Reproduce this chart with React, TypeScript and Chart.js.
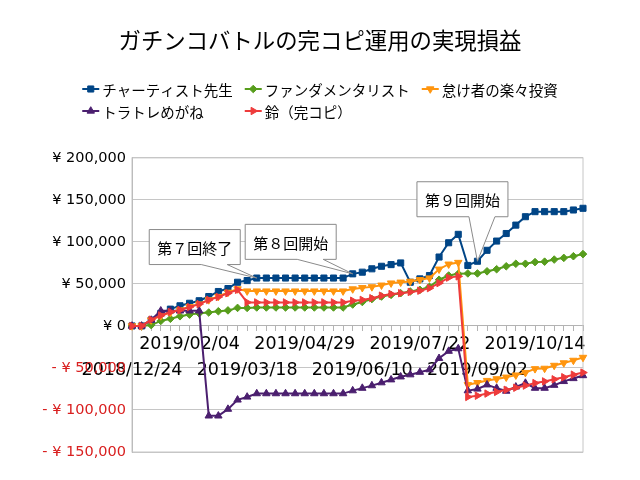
import { useEffect, useRef } from "react";
import { Chart, registerables } from "chart.js";

Chart.register(...registerables);

const jpFont = '"Noto Sans CJK JP", "DejaVu Sans", sans-serif';
const numFont = '"DejaVu Sans", sans-serif';

const chartTitle = "ガチンコバトルの完コピ運用の実現損益";

const weeks = [
  "2018/12/24", "2018/12/31", "2019/01/07", "2019/01/14", "2019/01/21", "2019/01/28",
  "2019/02/04", "2019/02/11", "2019/02/18", "2019/02/25", "2019/03/04", "2019/03/11",
  "2019/03/18", "2019/03/25", "2019/04/01", "2019/04/08", "2019/04/15", "2019/04/22",
  "2019/04/29", "2019/05/06", "2019/05/13", "2019/05/20", "2019/05/27", "2019/06/03",
  "2019/06/10", "2019/06/17", "2019/06/24", "2019/07/01", "2019/07/08", "2019/07/15",
  "2019/07/22", "2019/07/29", "2019/08/05", "2019/08/12", "2019/08/19", "2019/08/26",
  "2019/09/02", "2019/09/09", "2019/09/16", "2019/09/23", "2019/09/30", "2019/10/07",
  "2019/10/14", "2019/10/21", "2019/10/28", "2019/11/04", "2019/11/11", "2019/11/18",
];

const seriesNames = ["チャーティスト先生", "ファンダメンタリスト", "怠け者の楽々投資", "トラトレめがね", "鈴（完コピ）"];
const seriesColors = ["#004586", "#579d1c", "#ff950e", "#4b1f6f", "#ee3b3b"];

const chartist = [
  0, 0, 7000, 15000, 20000, 24000, 27000, 30000, 35000, 41000, 44500, 52000,
  54000, 57000, 57000, 57000, 57000, 57000, 57000, 57000, 57000, 57000, 57000, 62000,
  64000, 68000, 71000, 73000, 75000, 52000, 56000, 60000, 82000, 99000, 109000, 72000,
  77000, 90000, 101000, 110000, 120000, 130000, 136000, 136000, 136000, 136000, 138000, 140000,
];
const fundamentalist = [
  0, 0, 1000, 6000, 8500, 11500, 13500, 15000, 16000, 17500, 18500, 21500,
  21500, 22000, 22000, 22000, 22000, 22000, 22000, 22000, 22000, 22000, 22000, 25500,
  28500, 32000, 35000, 37000, 39000, 41000, 43000, 46500, 55000, 60000, 62000, 62500,
  62500, 65000, 67500, 71000, 74000, 74000, 76000, 76500, 79000, 81000, 83000, 85500,
];
const lazyInvest = [
  0, 0, 7000, 12000, 16000, 19000, 23000, 26000, 31000, 35000, 40000, 44000,
  41500, 41500, 41500, 41500, 41500, 41500, 41500, 41500, 41500, 41500, 41500, 44000,
  45500, 46500, 48500, 51000, 52000, 53000, 55000, 57000, 67500, 73500, 75500, -70000,
  -67500, -65000, -63000, -61000, -58500, -55500, -51000, -50500, -47000, -44000, -41000, -37500,
];
const toratore = [
  0, 0, 7000, 18000, 18000, 18000, 18000, 18000, -107000, -107000, -99000, -88000,
  -84500, -80500, -80500, -80500, -80500, -80500, -80500, -80500, -80500, -80500, -80500, -77000,
  -74000, -71000, -67500, -64000, -60500, -58000, -55000, -52000, -38500, -30000, -27000, -77000,
  -75000, -70000, -74000, -77500, -72500, -68000, -74000, -74000, -70500, -66000, -62500, -59000,
];
const suzu = [
  0, 0, 7500, 12500, 16500, 19000, 22500, 26000, 31000, 34500, 39000, 43000,
  28000, 28000, 28000, 28000, 28000, 28000, 28000, 28000, 28000, 28000, 28000, 30000,
  31000, 33000, 36000, 38000, 39000, 40500, 42000, 45000, 51000, 57500, 59000, -84500,
  -83000, -80500, -78500, -76000, -73500, -71000, -68000, -66000, -63500, -61000, -58000, -55500,
];

const seriesData = [chartist, fundamentalist, lazyInvest, toratore, suzu];
const markerStyles = ["rect", "rectRot", "triangle", "triangle", "triangle"];
const markerRotations = [0, 0, 180, 0, 90];
const markerRadius = [4.3, 3.8, 4.3, 4.3, 4.3];

// callouts point at the チャーティスト先生 line
const callouts = [
  { text: "第７回終了", index: 13, dx: -62, dy: -31 },
  { text: "第８回開始", index: 23, dx: -62, dy: -32 },
  { text: "第９回開始", index: 36, dx: -15, dy: -62 },
];

const negRed = "#d92020";

function drawMarker(ctx: CanvasRenderingContext2D, style: string, rot: number, r: number, x: number, y: number) {
  ctx.beginPath();
  if (style === "rect") {
    const s = r * Math.SQRT1_2;
    ctx.rect(x - s, y - s, 2 * s, 2 * s);
  } else if (style === "rectRot") {
    ctx.moveTo(x, y - r);
    ctx.lineTo(x + r, y);
    ctx.lineTo(x, y + r);
    ctx.lineTo(x - r, y);
    ctx.closePath();
  } else {
    let a = (rot * Math.PI) / 180;
    ctx.moveTo(x + Math.sin(a) * r, y - Math.cos(a) * r);
    a += (2 * Math.PI) / 3;
    ctx.lineTo(x + Math.sin(a) * r, y - Math.cos(a) * r);
    a += (2 * Math.PI) / 3;
    ctx.lineTo(x + Math.sin(a) * r, y - Math.cos(a) * r);
    ctx.closePath();
  }
  ctx.fill();
  ctx.stroke();
}

const plotBorder = {
  id: "plotBorder",
  beforeDatasetsDraw(chart: any) {
    const { ctx, chartArea } = chart;
    ctx.save();
    ctx.strokeStyle = "#c6c6c6";
    ctx.lineWidth = 1;
    ctx.strokeRect(chartArea.left, chartArea.top, chartArea.right - chartArea.left, chartArea.bottom - chartArea.top);
    ctx.restore();
  },
};

const calloutPlugin = {
  id: "callouts",
  afterDatasetsDraw(chart: any) {
    const ctx = chart.ctx as CanvasRenderingContext2D;
    const meta = chart.getDatasetMeta(0);
    const w = 91;
    const h = 35;
    ctx.save();
    ctx.font = `15px ${jpFont}`;
    ctx.textAlign = "center";
    ctx.textBaseline = "middle";
    callouts.forEach((c) => {
      const pt = meta.data[c.index];
      const cx = pt.x + c.dx;
      const cy = pt.y + c.dy;
      const left = cx - w / 2;
      const top = cy - h / 2;
      const bottom = top + h;
      ctx.beginPath();
      ctx.moveTo(left, top);
      ctx.lineTo(left + w, top);
      ctx.lineTo(left + w, bottom);
      ctx.lineTo(left + 78, bottom);
      ctx.lineTo(pt.x, pt.y);
      ctx.lineTo(left + 52, bottom);
      ctx.lineTo(left, bottom);
      ctx.closePath();
      ctx.fillStyle = "#ffffff";
      ctx.fill();
      ctx.strokeStyle = "#8a8a8a";
      ctx.lineWidth = 1;
      ctx.stroke();
      ctx.fillStyle = "#000000";
      ctx.fillText(c.text, cx, cy + 1);
    });
    ctx.restore();
  },
};

const gridLegend = {
  id: "gridLegend",
  afterDraw(chart: any) {
    const ctx = chart.ctx as CanvasRenderingContext2D;
    const rows = [[0, 1, 2], [3, 4]];
    const gap = 12;
    ctx.save();
    ctx.font = `14.5px ${jpFont}`;
    ctx.textBaseline = "middle";
    const cols = [0, 1, 2].map((c) =>
      Math.max(...rows.filter((r) => r[c] !== undefined).map((r) => 20 + ctx.measureText(seriesNames[r[c]]).width))
    );
    const total = cols.reduce((a, b) => a + b, 0) + gap * (cols.length - 1);
    const x0 = chart.width / 2 - total / 2;
    rows.forEach((row, ri) => {
      let x = x0;
      const y = 89 + ri * 22;
      row.forEach((si, ci) => {
        ctx.strokeStyle = seriesColors[si];
        ctx.fillStyle = seriesColors[si];
        ctx.lineWidth = 2;
        ctx.beginPath();
        ctx.moveTo(x, y);
        ctx.lineTo(x + 17, y);
        ctx.stroke();
        ctx.lineWidth = 1;
        drawMarker(ctx, markerStyles[si], markerRotations[si], markerRadius[si], x + 8.5, y);
        ctx.fillStyle = "#000000";
        ctx.fillText(seriesNames[si], x + 20, y + 1);
        x += cols[ci] + gap;
      });
    });
    ctx.restore();
  },
};

function yenLabel(v: number) {
  const s = "¥ " + Math.abs(v).toLocaleString("en-US");
  return v < 0 ? "- " + s : s;
}

const App: React.FC = () => {
  const canvasRef = useRef<HTMLCanvasElement | null>(null);

  useEffect(() => {
    if (!canvasRef.current) return;
    const chart = new Chart(canvasRef.current, {
      type: "line",
      plugins: [plotBorder, calloutPlugin, gridLegend],
      data: {
        labels: weeks,
        datasets: seriesData.map((d, i) => ({
          label: seriesNames[i],
          data: d,
          borderColor: seriesColors[i],
          backgroundColor: seriesColors[i],
          borderWidth: 2,
          pointStyle: markerStyles[i] as any,
          pointRotation: markerRotations[i],
          pointRadius: markerRadius[i],
          pointBorderWidth: 1,
          tension: 0,
          order: 5 - i,
        })),
      },
      options: {
        responsive: false,
        animation: false,
        events: [],
        layout: { padding: { left: 0, right: 0, bottom: 28, top: 0 } },
        plugins: {
          legend: { display: false },
          tooltip: { enabled: false },
          title: {
            display: true,
            text: chartTitle,
            color: "#000000",
            font: { family: jpFont, size: 22.4, weight: "normal" },
            padding: { top: 27, bottom: 104 },
          },
        },
        scales: {
          x: {
            position: { y: 0 } as any,
            ticks: {
              autoSkip: false,
              maxRotation: 0,
              minRotation: 0,
              padding: 1,
              color: "#000000",
              font: { family: numFont, size: 17.5, lineHeight: 1.45 },
              callback: (_v: any, i: number) => {
                if (i % 6 !== 0) return "";
                return i % 12 === 6 ? [weeks[i]] : ["", weeks[i]];
              },
            },
            grid: { drawOnChartArea: false, tickLength: 5, color: "#b3b3b3" },
            border: { color: "#b3b3b3" },
          },
          y: {
            min: -150000,
            max: 200000,
            afterFit: (s: any) => {
              s.width = 132;
            },
            ticks: {
              stepSize: 50000,
              padding: 6,
              font: { family: numFont, size: 14.5 },
              color: (c: any) => (c.tick && c.tick.value < 0 ? negRed : "#000000"),
              callback: (v: any) => yenLabel(Number(v)),
            },
            grid: { color: "#c6c6c6", drawTicks: false },
            border: { color: "#b3b3b3" },
          },
          // empty right-hand axis keeps the plot's right margin while the title stays centred
          yRight: {
            type: "linear",
            position: "right",
            grid: { display: false },
            border: { display: false },
            ticks: { display: false },
            afterFit: (s: any) => {
              s.width = 57;
            },
          },
        },
      },
    });
    return () => chart.destroy();
  }, []);

  return (
    <div style={{ position: "absolute", left: 0, top: 0, width: 640, height: 480, background: "#ffffff" }}>
      <canvas ref={canvasRef} width={640} height={480} style={{ display: "block" }} />
    </div>
  );
};

export default App;
